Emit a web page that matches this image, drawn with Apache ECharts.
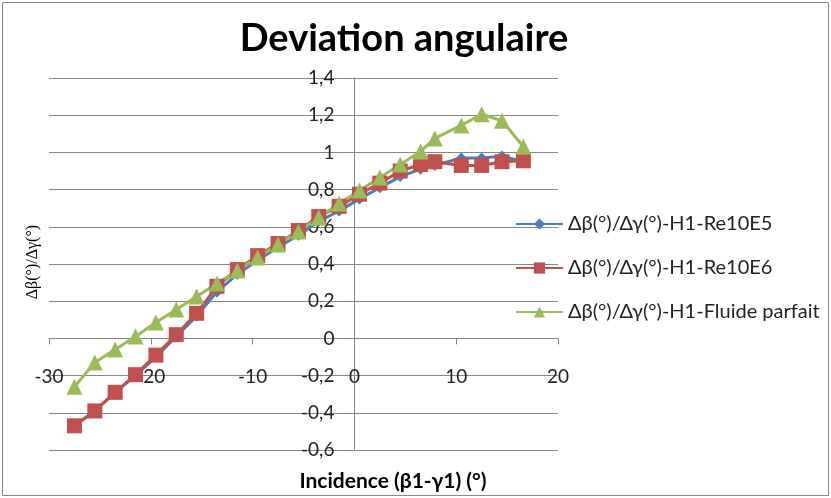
<!DOCTYPE html>
<html>
<head>
<meta charset="utf-8">
<script src="https://cdn.jsdelivr.net/npm/echarts@6/dist/echarts.min.js"></script>
<style>
  html, body { margin: 0; padding: 0; background: #fff; }
  #chart { width: 831px; height: 498px; }
</style>
</head>
<body>
<div id="chart"></div>
<script>
// Incidence (β1-γ1) in degrees, shared by the three series
const incidence = [-27.5, -25.5, -23.5, -21.5, -19.5, -17.5, -15.5, -13.5, -11.5, -9.5, -7.5, -5.5,
                   -3.5, -1.5, 0.5, 2.5, 4.5, 6.5, 7.9, 10.5, 12.5, 14.5, 16.6];

// Δβ/Δγ ratios
const re10e5 = [-0.47, -0.39, -0.29, -0.20, -0.10, 0.01, 0.12, 0.25, 0.345, 0.42, 0.49, 0.555,
                0.63, 0.685, 0.75, 0.81, 0.87, 0.91, 0.93, 0.97, 0.97, 0.98, 0.95];
const re10e6 = [-0.47, -0.39, -0.29, -0.195, -0.09, 0.02, 0.135, 0.28, 0.37, 0.445, 0.51, 0.58,
                0.655, 0.71, 0.775, 0.835, 0.90, 0.935, 0.95, 0.93, 0.93, 0.95, 0.955];
const fluideParfait = [-0.26, -0.13, -0.06, 0.01, 0.085, 0.155, 0.225, 0.295, 0.365, 0.435, 0.505, 0.575,
                       0.65, 0.725, 0.795, 0.865, 0.935, 1.005, 1.075, 1.145, 1.205, 1.17, 1.03];

const seriesNames = [
  'Δβ(°)/Δγ(°)-H1-Re10E5',
  'Δβ(°)/Δγ(°)-H1-Re10E6',
  'Δβ(°)/Δγ(°)-H1-Fluide parfait'
];
const xTitle = 'Incidence (β1-γ1) (°)';
const yTitle = 'Δβ(°)/Δγ(°)';

const xMin = -30, xMax = 20, xStep = 10;
const yMin = -0.6, yMax = 1.4, yStep = 0.2;

const pairs = ys => incidence.map((x, i) => [x, ys[i]]);
const comma = v => String(Math.round(v * 10) / 10).replace('.', ',');

// Plot box
const W = 831, H = 498;
const box = { left: 49, right: 273, top: 78, bottom: 48 };
const plotW = W - box.left - box.right;
const plotH = H - box.top - box.bottom;
// The axes cross at the origin: shift each axis inward to the other axis's zero
const xAxisShift = -plotH * (0 - yMin) / (yMax - yMin);
const yAxisShift = -plotW * (0 - xMin) / (xMax - xMin);

const gridColor = '#868686';
const labelFont = 'Lato, "Open Sans", sans-serif';

const chart = echarts.init(document.getElementById('chart'), null, { renderer: 'canvas' });

chart.setOption({
  animation: false,
  backgroundColor: '#ffffff',
  title: {
    text: 'Deviation angulaire',
    left: 399,
    top: 15,
    textAlign: 'center',
    textStyle: { fontFamily: labelFont, fontWeight: 'bold', fontSize: 38, color: '#000' }
  },
  graphic: [
    {
      type: 'rect',
      shape: { x: 2.5, y: 2.5, width: 826, height: 493 },
      style: { fill: 'none', stroke: gridColor, lineWidth: 1 },
      silent: true
    },
    {
      type: 'text', x: 393, y: 481,
      style: { text: xTitle, fontFamily: labelFont, fontWeight: 'bold', fontSize: 21, fill: '#000',
               align: 'center', verticalAlign: 'middle' }
    },
    {
      type: 'text', x: 33, y: 262, rotation: Math.PI / 2,
      style: { text: yTitle, fontFamily: '"Liberation Serif", serif', fontSize: 16, fill: '#000',
               align: 'center', verticalAlign: 'middle' }
    }
  ],
  legend: {
    orient: 'vertical',
    left: 510,
    top: 209,
    itemWidth: 47,
    itemHeight: 14,
    itemGap: 24,
    textStyle: { fontFamily: labelFont, fontSize: 20, color: '#222' },
    data: seriesNames
  },
  grid: { left: box.left, right: box.right, top: box.top, bottom: box.bottom, outerBoundsMode: 'none' },
  xAxis: {
    type: 'value',
    min: xMin, max: xMax, interval: xStep,
    offset: xAxisShift,
    axisLine: { onZero: false, lineStyle: { color: gridColor, width: 1 } },
    axisTick: { show: true, length: 6, lineStyle: { color: gridColor } },
    axisLabel: { margin: 29, fontFamily: labelFont, fontSize: 19, color: '#222', formatter: v => comma(v) },
    splitLine: { show: false }
  },
  yAxis: {
    type: 'value',
    min: yMin, max: yMax, interval: yStep,
    offset: yAxisShift,
    axisLine: { onZero: false, lineStyle: { color: gridColor, width: 1 } },
    axisTick: { show: true, length: 5, lineStyle: { color: gridColor } },
    axisLabel: { margin: 20, fontFamily: labelFont, fontSize: 19, color: '#222', formatter: v => comma(v) },
    splitLine: { show: true, lineStyle: { color: gridColor, width: 1 } }
  },
  series: [
    {
      name: seriesNames[0], type: 'line', data: pairs(re10e5),
      symbol: 'diamond', symbolSize: 11,
      itemStyle: { color: '#4A7EBB' }, lineStyle: { color: '#4A7EBB', width: 3 }
    },
    {
      name: seriesNames[1], type: 'line', data: pairs(re10e6),
      symbol: 'rect', symbolSize: 15,
      itemStyle: { color: '#C0504D' }, lineStyle: { color: '#C0504D', width: 3 }
    },
    {
      name: seriesNames[2], type: 'line', data: pairs(fluideParfait),
      symbol: 'triangle', symbolSize: 16,
      itemStyle: { color: '#9BBB59' }, lineStyle: { color: '#9BBB59', width: 3 }
    }
  ]
});
</script>
</body>
</html>
